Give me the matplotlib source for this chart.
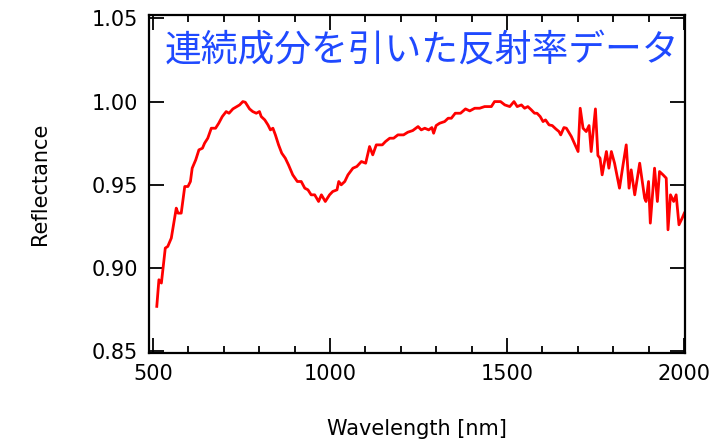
import matplotlib
matplotlib.use("Agg")
import matplotlib.pyplot as plt
from matplotlib.ticker import MultipleLocator

wavelength = [511, 517, 524, 535, 542, 552, 566, 571, 580, 590, 599, 606, 611, 621, 630, 640,
              646, 655, 665, 677, 686, 696, 707, 715, 726, 737, 745, 754, 761, 773, 782, 792,
              801, 806, 816, 825, 832, 839, 846, 855, 864, 874, 883, 895, 908, 919, 929, 938,
              947, 957, 968, 976, 987, 999, 1008, 1020, 1025, 1032, 1042, 1051, 1065, 1076,
              1089, 1101, 1112, 1121, 1131, 1148, 1157, 1169, 1180, 1192, 1208, 1220, 1234,
              1249, 1258, 1268, 1279, 1288, 1293, 1300, 1310, 1324, 1334, 1343, 1354, 1369,
              1383, 1395, 1409, 1423, 1437, 1456, 1465, 1482, 1494, 1508, 1520, 1529, 1541,
              1550, 1559, 1569, 1578, 1585, 1594, 1602, 1609, 1619, 1628, 1638, 1647, 1652,
              1661, 1668, 1682, 1701, 1707, 1715, 1724, 1732, 1738, 1750, 1757, 1763, 1769,
              1781, 1788, 1795, 1804, 1818, 1828, 1837, 1845, 1851, 1861, 1875, 1889, 1893,
              1900, 1905, 1917, 1925, 1931, 1941, 1950, 1955, 1962, 1971, 1978, 1986, 1995, 2001]
reflectance = [0.877, 0.893, 0.891, 0.912, 0.913, 0.918, 0.936, 0.933, 0.933, 0.949, 0.949, 0.952,
               0.960, 0.965, 0.971, 0.972, 0.975, 0.978, 0.984, 0.984, 0.987, 0.991, 0.994, 0.993,
               0.9956, 0.997, 0.998, 1.000, 0.9996, 0.9956, 0.994, 0.993, 0.994, 0.991, 0.989,
               0.986, 0.983, 0.984, 0.980, 0.974, 0.969, 0.966, 0.962, 0.956, 0.952, 0.952,
               0.948, 0.947, 0.944, 0.944, 0.940, 0.944, 0.940, 0.944, 0.946, 0.947, 0.952,
               0.950, 0.952, 0.956, 0.960, 0.961, 0.964, 0.963, 0.973, 0.968, 0.974, 0.974,
               0.976, 0.978, 0.978, 0.980, 0.980, 0.9816, 0.9826, 0.985, 0.983, 0.984, 0.983,
               0.9844, 0.981, 0.9856, 0.987, 0.988, 0.990, 0.990, 0.993, 0.993, 0.9956, 0.9944,
               0.996, 0.996, 0.997, 0.997, 1.000, 1.000, 0.998, 0.997, 1.000, 0.997, 0.998,
               0.996, 0.997, 0.995, 0.993, 0.993, 0.991, 0.988, 0.989, 0.986, 0.9856, 0.9836,
               0.982, 0.980, 0.9844, 0.984, 0.979, 0.970, 0.996, 0.984, 0.982, 0.9856, 0.970,
               0.9956, 0.9676, 0.966, 0.956, 0.970, 0.960, 0.970, 0.963, 0.948, 0.962, 0.974,
               0.948, 0.959, 0.944, 0.963, 0.942, 0.940, 0.952, 0.927, 0.960, 0.940, 0.958,
               0.956, 0.954, 0.923, 0.944, 0.940, 0.944, 0.926, 0.930, 0.933]

title_text = "連続成分を引いた反射率データ"
x_label = "Wavelength [nm]"
y_label = "Reflectance"
x_ticks = [500, 1000, 1500, 2000]
y_ticks = [0.85, 0.90, 0.95, 1.00, 1.05]

fig = plt.figure(figsize=(7.26, 4.42), dpi=100)
ax = fig.add_axes([149 / 726, 1 - 353 / 442, 536 / 726, 338 / 442])
ax.plot(wavelength, reflectance, color="#ff0000", lw=2.0)

ax.set_xlim(489, 2003)
ax.set_ylim(0.849, 1.052)
ax.set_xticks(x_ticks)
ax.set_yticks(y_ticks)
ax.set_yticklabels([f"{v:.2f}" for v in y_ticks])
ax.xaxis.set_minor_locator(MultipleLocator(100))

for s in ax.spines.values():
    s.set_linewidth(1.6)
ax.tick_params(which="both", direction="in", top=True, right=True, labelsize=15, width=1.3)
ax.tick_params(which="major", length=11)
ax.tick_params(which="minor", length=5)
ax.tick_params(axis="x", which="major", pad=8)
ax.tick_params(axis="y", which="major", pad=8)

ax.set_xlabel(x_label, fontsize=15)
ax.set_ylabel(y_label, fontsize=15)
ax.xaxis.set_label_coords(0.5, -0.195)
ax.yaxis.set_label_coords(-0.185, 0.5)

ax.text(0.51, 0.895, title_text, transform=ax.transAxes, ha="center", va="center",
        fontsize=26.5, color="#1f49ff", family=["Noto Sans CJK JP", "DejaVu Sans"])

fig.savefig("out.png", dpi=100)
